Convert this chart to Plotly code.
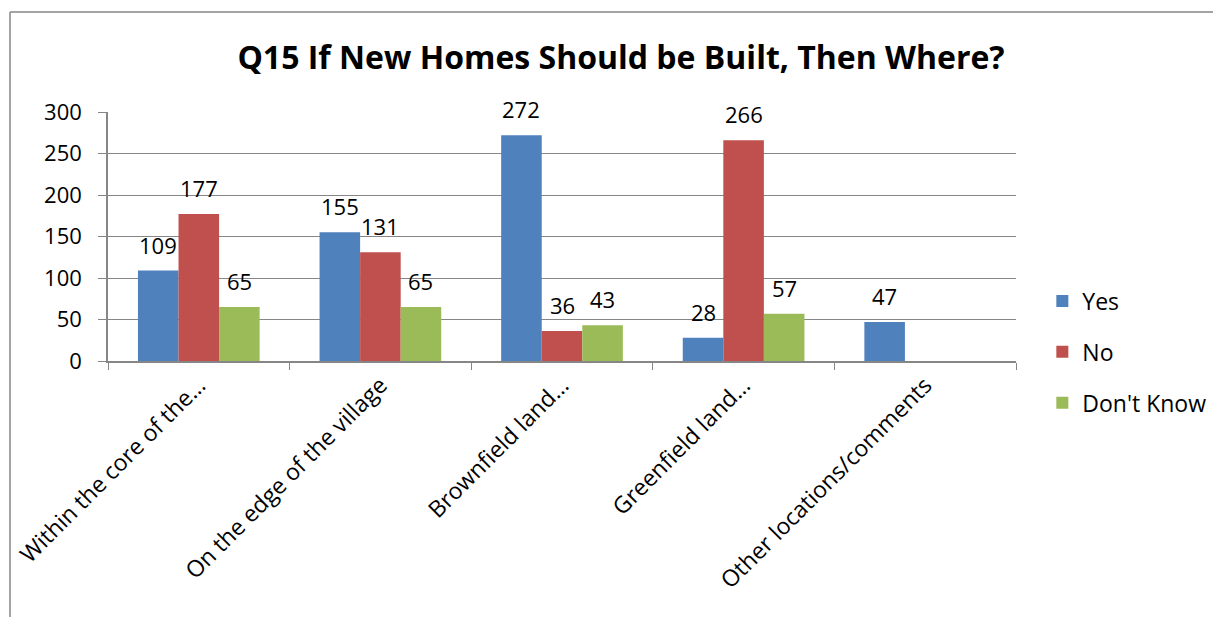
import plotly.graph_objects as go

categories = ["Within the core of the…", "On the edge of the village", "Brownfield land…",
              "Greenfield land…", "Other locations/comments"]
yes_vals = [109, 155, 272, 28, 47]
no_vals = [177, 131, 36, 266, None]
dk_vals = [65, 65, 43, 57, None]
series_names = ["Yes", "No", "Don't Know"]
colors = ["#4F81BD", "#C0504D", "#9BBB59"]
y_ticks = [0, 50, 100, 150, 200, 250, 300]

FONT = "'Open Sans', sans-serif"
FS = 22

# page body has an 8px margin; figure is sized to fill the rest of the window
W, H = 1213, 609
L, R, T, B = 100, 205, 104, 256
PW, PH = W - L - R, H - T - B
BARGAP = 0.33
bar_px = PW / len(categories) * (1 - BARGAP) / len(series_names)

fig = go.Figure()
annotations = []
for i, (name, vals, col) in enumerate(zip(series_names, [yes_vals, no_vals, dk_vals], colors)):
    fig.add_trace(go.Bar(
        name=name, x=categories, y=vals, marker_color=col, marker_line_width=0,
        legendgroup=name, cliponaxis=False,
    ))
    for cat, v in zip(categories, vals):
        if v is None:
            continue
        annotations.append(dict(
            x=cat, y=v, xref="x", yref="y", text=str(v), showarrow=False,
            xshift=(i - 1) * bar_px, yshift=26, yanchor="middle", xanchor="center",
            font=dict(size=FS, color="black", family=FONT),
        ))

fig.update_layout(
    width=W, height=H,
    paper_bgcolor="white", plot_bgcolor="white",
    barmode="group", bargap=BARGAP, bargroupgap=0,
    margin=dict(l=L, r=R, t=T, b=B, autoexpand=False),
    font=dict(family=FONT, size=FS, color="black"),
    title=dict(text="<b>Q15 If New Homes Should be Built, Then Where?</b>",
               x=613 / W, xref="container", xanchor="center",
               y=1 - 50 / H, yref="container", yanchor="middle",
               font=dict(size=32, family=FONT, color="black")),
    legend=dict(x=1.029, xanchor="left", y=(PH - (352 - 8 - T)) / PH, yanchor="middle",
                font=dict(size=23, family=FONT), traceorder="grouped", tracegroupgap=18,
                itemwidth=30, bgcolor="rgba(0,0,0,0)"),
    yaxis=dict(range=[0, 300], tickvals=y_ticks, showgrid=True, gridcolor="#868686", gridwidth=1,
               showline=True, linecolor="#868686", linewidth=1.5,
               ticks="outside", ticklen=8, tickcolor="#868686", ticklabelstandoff=12,
               tickfont=dict(size=FS), zeroline=False),
    xaxis=dict(tickangle=-45, tickson="boundaries", ticks="outside", ticklen=7,
               tickcolor="#868686", showline=True, linecolor="#868686", linewidth=1.5,
               tickfont=dict(size=23)),
    annotations=annotations,
    shapes=[
        dict(type="line", xref="paper", yref="paper", x0=(2 - L) / PW, x1=1.3,
             y0=(PH + T - 4) / PH, y1=(PH + T - 4) / PH, line=dict(color="#868686", width=1.5)),
        dict(type="line", xref="paper", yref="paper", x0=(2 - L) / PW, x1=(2 - L) / PW,
             y0=(PH + T - 4) / PH, y1=-1.2, line=dict(color="#868686", width=1.5)),
    ],
)

fig.write_html("out.html")
